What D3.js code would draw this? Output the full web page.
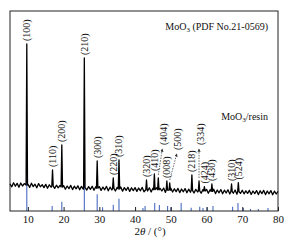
<!DOCTYPE html>
<html>
<head>
<meta charset="utf-8">
<script src="https://cdn.jsdelivr.net/npm/d3@7/dist/d3.min.js"></script>
<style>
  body { margin: 0; background: #fff; }
  text { font-family: "Liberation Serif", "Times New Roman", serif; fill: #111; }
</style>
</head>
<body>
<svg id="chart"></svg>
<script>
var width = 298,
    height = 242;

// measured pattern, background counts every 0.5 deg from 5 to 80
var baseStart = 5, baseStep = 0.5;
var baseCounts = [
  136,121,141,124,138,119,140,125,137,120,
  135,118,139,122,134,116,137,121,132,117,
  133,114,131,119,130,113,129,116,128,112,
  127,109,125,112,128,107,124,111,126,106,
  123,109,125,105,122,108,124,104,121,107,
  122,103,120,106,123,101,119,105,121,100,
  118,104,120,99,117,103,119,98,116,102,
  117,98,115,101,118,96,114,100,116,95,
  114,99,116,94,113,100,115,93,112,98,
  114,95,111,97,113,92,110,96,112,91,
  109,94,111,90,108,95,110,89,107,93,
  108,89,106,92,109,87,105,91,107,86,
  104,90,106,85,103,89,105,84,102,88,
  104,86,101,88,103,83,100,87,102,82,
  101,87,103,82,100,86,102,81,99,85,
  98
];

// diffraction peaks of the sample
var peakAngles = [9.7, 16.9, 19.5, 25.8, 29.4, 33.9, 35.5, 43.2, 45.4, 46.5, 48.9, 49.7, 55.9, 57.9, 59.4, 61.5, 67.0, 68.9];
var peakCounts = [835, 205, 330, 765, 250, 165, 255, 155, 185, 165, 150, 140, 180, 150, 122, 135, 135, 142];
var peakFoot   = [130, 124, 120, 117, 114, 112, 110, 106, 107, 106, 104, 104, 102, 100, 100, 98, 96, 96];
var peakLabels = ['(100)', '(110)', '(200)', '(210)', '(300)', '(220)', '(310)', '(320)', '(410)', '(404)', '(008)', '(500)', '(218)', '(334)', '(424)', '(430)', '(310)', '(524)'];

// standard card PDF No.21-0569
var refAngles = [9.7, 16.8, 19.5, 25.8, 29.4, 30.9, 33.9, 35.5, 42.2, 42.8, 45.5, 46.8, 49.1, 50.0, 52.9, 55.7, 58.1, 59.0, 60.2, 61.8, 67.3, 68.8, 70.3, 72.3, 74.5, 77.2];
var refIntensity = [80, 12, 22, 100, 40, 9, 15, 29, 7, 12, 19, 14, 12, 9, 19, 8, 10, 7, 9, 12, 10, 19, 7, 5, 5, 7];

var xTicks = [10, 20, 30, 40, 50, 60, 70, 80];

var margin = {left: 10, right: 20, top: 11, bottom: 31};
var plotW = width - margin.left - margin.right,
    plotH = height - margin.top - margin.bottom;

var x = d3.scaleLinear().domain([5, 80]).range([0, plotW]);
var y = d3.scaleLinear().domain([0, 1000]).range([plotH, 0]);
var yRef = d3.scaleLinear().domain([0, 100]).range([plotH, plotH - 42]);

var svg = d3.select('#chart')
    .attr('width', width)
    .attr('height', height);

var g = svg.append('g')
    .attr('transform', 'translate(' + margin.left + ',' + margin.top + ')');

// reference sticks (behind)
g.append('g').selectAll('line')
    .data(refAngles)
    .enter().append('line')
    .attr('x1', function (d) { return x(d); })
    .attr('x2', function (d) { return x(d); })
    .attr('y1', plotH)
    .attr('y2', function (d, i) { return yRef(refIntensity[i]); })
    .attr('stroke', '#4a6cc2')
    .attr('stroke-width', 1.1);

// build measured curve from background + peaks
var pts = [];
baseCounts.forEach(function (v, i) {
    var a = baseStart + i * baseStep;
    var near = peakAngles.some(function (p) { return Math.abs(p - a) < 0.25; });
    if (!near) pts.push([a, v]);
});
peakAngles.forEach(function (p, i) {
    pts.push([p - 0.2, peakFoot[i]]);
    pts.push([p, peakCounts[i]]);
    pts.push([p + 0.2, peakFoot[i]]);
});
pts.sort(function (a, b) { return a[0] - b[0]; });

var line = d3.line()
    .x(function (d) { return x(d[0]); })
    .y(function (d) { return y(d[1]); });

g.append('path')
    .datum(pts)
    .attr('d', line)
    .attr('fill', 'none')
    .attr('stroke', '#000')
    .attr('stroke-width', 1.3)
    .attr('stroke-linejoin', 'round');

// arrow marker for shifted labels
svg.append('defs').append('marker')
    .attr('id', 'arr')
    .attr('viewBox', '0 0 6 6')
    .attr('refX', 5).attr('refY', 3)
    .attr('markerWidth', 4).attr('markerHeight', 4)
    .attr('orient', 'auto')
    .append('path')
    .attr('d', 'M0,0L6,3L0,6Z')
    .attr('fill', '#333');

// label offsets (px) for labels pulled away from crowded peaks
var shifted = {9: [5, -30], 11: [8, -30], 13: [1, -33]};

var labels = g.append('g');
peakAngles.forEach(function (p, i) {
    var px = x(p), py = y(peakCounts[i]) - 3;
    var lx = px, ly = py;
    if (shifted[i]) {
        lx = px + shifted[i][0];
        ly = py + shifted[i][1];
        g.append('line')
            .attr('x1', px).attr('y1', py)
            .attr('x2', lx - 1).attr('y2', ly + 4)
            .attr('stroke', '#444')
            .attr('stroke-width', 0.8)
            .attr('stroke-dasharray', '1.5,1.2')
            .attr('marker-end', 'url(#arr)');
    }
    labels.append('text')
        .attr('transform', 'translate(' + lx + ',' + ly + ')rotate(-90)')
        .attr('dy', '0.35em')
        .attr('font-size', 10)
        .text(peakLabels[i]);
});

// frame
g.append('rect')
    .attr('width', plotW)
    .attr('height', plotH)
    .attr('fill', 'none')
    .attr('stroke', '#222')
    .attr('stroke-width', 1);

// x axis, ticks inside
var xAxis = d3.axisBottom(x)
    .tickValues(xTicks)
    .tickSizeInner(-4)
    .tickSizeOuter(0)
    .tickPadding(4);

var ax = g.append('g')
    .attr('transform', 'translate(0,' + plotH + ')')
    .call(xAxis);
ax.select('.domain').remove();
ax.selectAll('text')
    .style('font-family', '"Liberation Serif", serif')
    .attr('font-size', 11)
    .attr('fill', '#111');
ax.selectAll('line').attr('stroke', '#222');

// axis title
var xt = svg.append('text')
    .attr('x', 150)
    .attr('y', 235)
    .attr('text-anchor', 'middle')
    .attr('font-size', 11);
xt.append('tspan').text('2');
xt.append('tspan').attr('font-style', 'italic').text('θ');
xt.append('tspan').text(' / (°)');

// annotations
var t1 = svg.append('text')
    .attr('x', 268)
    .attr('y', 30)
    .attr('text-anchor', 'end')
    .attr('font-size', 10);
t1.append('tspan').text('MoO');
t1.append('tspan').attr('font-size', 7).attr('dy', 2).text('3');
t1.append('tspan').attr('dy', -2).text(' (PDF No.21-0569)');

var t2 = svg.append('text')
    .attr('x', 268)
    .attr('y', 120)
    .attr('text-anchor', 'end')
    .attr('font-size', 10);
t2.append('tspan').text('MoO');
t2.append('tspan').attr('font-size', 7).attr('dy', 2).text('3');
t2.append('tspan').attr('dy', -2).text('/resin');
</script>
</body>
</html>
